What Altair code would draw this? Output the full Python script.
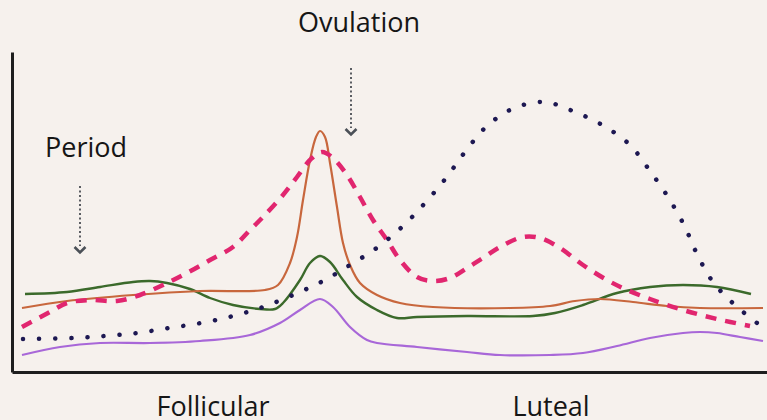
import altair as alt
import jinja2
import pandas as pd

# Horizontal position through the cycle (0-755) and relative level (0-320)
purple_x = [10, 48, 88, 138, 188, 238, 268, 288, 308, 321, 338, 355, 365, 405, 455, 488, 538, 571, 605, 638, 671, 688, 705, 728, 751]
purple_y = [17, 25, 29, 29, 31, 37, 49, 62, 73, 65, 45, 32, 29, 25, 20, 17, 17, 19, 26, 34, 39, 40, 39, 35, 31]

green_x = [13, 55, 88, 121, 138, 155, 178, 198, 221, 248, 263, 271, 288, 298, 308, 318, 331, 345, 365, 385, 405, 455, 521, 543, 571, 605, 638, 671, 705, 739]
green_y = [78, 80, 85, 90, 91, 89, 83, 74, 67, 63, 63, 69, 92, 109, 116, 110, 92, 75, 62, 54, 55, 56, 56, 59, 67, 79, 85, 87, 85, 78]

orange_x = [10, 55, 121, 188, 253, 266, 278, 285, 291, 298, 304, 308, 313, 318, 325, 331, 338, 348, 365, 388, 421, 498, 538, 563, 588, 621, 655, 688, 751]
orange_y = [64, 71, 77, 81, 82, 87, 109, 135, 172, 212, 235, 241, 235, 209, 165, 129, 107, 89, 77, 69, 65, 64, 66, 71, 73, 70, 66, 64, 64]

pink_x = [10, 38, 55, 78, 105, 128, 151, 175, 198, 221, 238, 251, 271, 285, 298, 310, 321, 335, 348, 361, 375, 388, 405, 421, 438, 455, 471, 488, 511, 528, 548, 571, 595, 615, 638, 671, 705, 738]
pink_y = [45, 60, 69, 72, 71, 77, 87, 99, 112, 125, 142, 155, 177, 195, 212, 220, 214, 197, 175, 152, 132, 112, 95, 91, 94, 104, 114, 125, 135, 134, 124, 107, 92, 82, 73, 62, 53, 46]

navy_x = [11, 61, 93, 125, 157, 189, 221, 251, 281, 311, 338, 366, 391, 413, 434, 453, 474, 500, 532, 563, 592, 618, 638, 656, 672, 685, 701, 724, 749]
navy_y = [33, 34, 36, 39, 44, 49, 56, 65, 77, 91, 107, 125, 146, 169, 194, 220, 245, 263, 270, 260, 246, 227, 201, 175, 147, 118, 90, 66, 46]

# Arrows (x, top level, bottom level, chevron level)
arrow_x = [68, 339]
arrow_top = [186, 304]
arrow_bottom = [126, 244]
arrow_head = [122, 240]

# Labels
label_text = ["Ovulation", "Period", "Follicular", "Luteal"]
label_x = [347, 74, 201, 539]
label_y = [340, 215, -44, -44]

BG = "#f6f1ed"

xscale = alt.Scale(domain=[0, 755], nice=False, zero=False)
yscale = alt.Scale(domain=[0, 320], nice=False, zero=False)


def curve(xs, ys, **mark):
    df = pd.DataFrame({"x": xs, "y": ys, "i": list(range(len(xs)))})
    return alt.Chart(df).mark_line(interpolate="catmull-rom", **mark).encode(
        x=alt.X("x:Q", scale=xscale, title=None),
        y=alt.Y("y:Q", scale=yscale, title=None),
        order="i:Q",
    )


purple = curve(purple_x, purple_y, color="#a867d8", strokeWidth=2.2)
green = curve(green_x, green_y, color="#3b6a2b", strokeWidth=2.4)
orange = curve(orange_x, orange_y, color="#c8673d", strokeWidth=2.2)
pink = curve(pink_x, pink_y, color="#e1266f", strokeWidth=4.5, strokeDash=[11, 9])
navy = curve(navy_x, navy_y, color="#1d1852", strokeWidth=4.5, strokeDash=[0.1, 16], strokeCap="round")

arrow_df = pd.DataFrame({"x": arrow_x, "top": arrow_top, "bottom": arrow_bottom, "head": arrow_head})
arrow_lines = alt.Chart(arrow_df).mark_rule(color="#5a5d62", strokeWidth=2, strokeDash=[2, 2.5]).encode(
    x=alt.X("x:Q", scale=xscale), y=alt.Y("top:Q", scale=yscale), y2="bottom:Q"
)
arrow_heads = alt.Chart(arrow_df).mark_point(
    shape="M-1,-0.55L0,0.45L1,-0.55", filled=False, color="#4b5057", strokeWidth=2.6, size=120, opacity=1
).encode(x=alt.X("x:Q", scale=xscale), y=alt.Y("head:Q", scale=yscale))

label_df = pd.DataFrame({"t": label_text, "x": label_x, "y": label_y})
labels = alt.Chart(label_df).mark_text(
    font="Open Sans", fontSize=27, align="center", baseline="alphabetic", color="#161616"
).encode(x=alt.X("x:Q", scale=xscale), y=alt.Y("y:Q", scale=yscale), text="t:N")

chart = alt.layer(purple, green, orange, pink, navy, arrow_lines, arrow_heads, labels).properties(
    width=755,
    height=320,
    background=BG,
    padding={"left": 12, "top": 52, "right": 0, "bottom": 48},
    autosize=alt.AutoSizeParams(type="none"),
).configure_axis(
    labels=False, ticks=False, grid=False, title=None, domainColor="#1e1e1e", domainWidth=3
).configure_view(stroke=None)

page = jinja2.Template("""<!DOCTYPE html>
<html>
<head>
<meta charset="utf-8">
<style>html, body { background: """ + BG + """; margin: 0; padding: 0; overflow: hidden; }</style>
<script type="text/javascript" src="{{ base_url }}/vega@{{ vega_version }}"></script>
<script type="text/javascript" src="{{ base_url }}/vega-lite@{{ vegalite_version }}"></script>
<script type="text/javascript" src="{{ base_url }}/vega-embed@{{ vegaembed_version }}"></script>
</head>
<body>
<div id="{{ output_div }}"></div>
<script type="text/javascript">
  (function(vegaEmbed) {
    var spec = {{ spec }};
    var embedOpt = {{ embed_options }};
    vegaEmbed("#{{ output_div }}", spec, embedOpt).catch(function(err) { console.error(err); });
  })(vegaEmbed);
</script>
</body>
</html>
""")

chart.save("out.html", embed_options={"renderer": "svg", "actions": False}, template=page)
